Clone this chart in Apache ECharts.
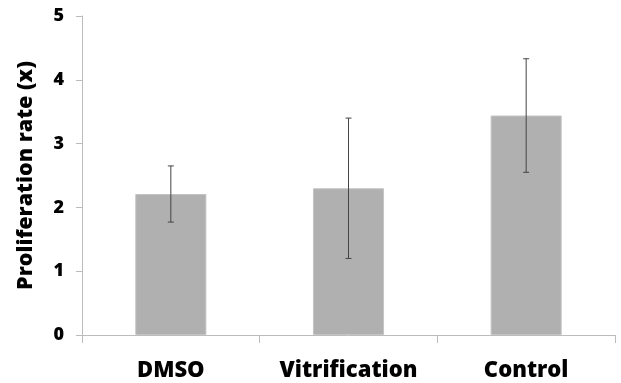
<!DOCTYPE html>
<html>
<head>
<meta charset="utf-8">
<script src="https://cdn.jsdelivr.net/npm/echarts@6/dist/echarts.min.js"></script>
<style>html,body{margin:0;padding:0;background:#fff;}#c{width:621px;height:383px;}</style>
</head>
<body>
<div id="c"></div>
<script>
const categories = ['DMSO', 'Vitrification', 'Control'];
const values = [2.21, 2.30, 3.44];
const errors = [0.44, 1.10, 0.89];
const yTicks = [0, 1, 2, 3, 4, 5];

const chart = echarts.init(document.getElementById('c'));
const errData = categories.map((c, i) => [i, values[i] - errors[i], values[i] + errors[i]]);
chart.setOption({
  animation: false,
  grid: { left: 82, top: 16, right: 6, bottom: 48 },
  xAxis: {
    type: 'category',
    data: categories,
    axisLine: { lineStyle: { color: '#bcbcbc', width: 1 } },
    axisTick: { show: true, length: 8, lineStyle: { color: '#bcbcbc' } },
    axisLabel: { interval: 0, hideOverlap: false, color: '#000', fontFamily: 'Open Sans', fontWeight: 800, fontSize: 22, margin: 25 }
  },
  yAxis: {
    type: 'value',
    min: yTicks[0],
    max: yTicks[yTicks.length - 1],
    interval: 1,
    name: 'Proliferation rate (x)',
    nameLocation: 'middle',
    nameGap: 45,
    nameTextStyle: { color: '#000', fontFamily: 'Open Sans', fontWeight: 800, fontSize: 21.5 },
    splitLine: { show: false },
    axisLine: { show: true, lineStyle: { color: '#bcbcbc', width: 1 } },
    axisTick: { show: true, length: 6, lineStyle: { color: '#bcbcbc' } },
    axisLabel: { color: '#000', fontFamily: 'Open Sans', fontWeight: 800, fontSize: 18, margin: 18 }
  },
  series: [
    {
      type: 'bar',
      data: values,
      barWidth: '40%',
      itemStyle: { color: '#b0b0b0', borderColor: '#c4c4c4', borderWidth: 1 }
    },
    {
      type: 'custom',
      data: errData,
      z: 10,
      renderItem: function (params, api) {
        const x = api.value(0);
        const lo = api.coord([x, api.value(1)]);
        const hi = api.coord([x, api.value(2)]);
        const cap = 3;
        const style = { stroke: '#444', lineWidth: 1 };
        return {
          type: 'group',
          children: [
            { type: 'line', shape: { x1: hi[0], y1: hi[1], x2: lo[0], y2: lo[1] }, style: style },
            { type: 'line', shape: { x1: hi[0] - cap, y1: hi[1], x2: hi[0] + cap, y2: hi[1] }, style: style },
            { type: 'line', shape: { x1: lo[0] - cap, y1: lo[1], x2: lo[0] + cap, y2: lo[1] }, style: style }
          ]
        };
      }
    }
  ]
});
</script>
</body>
</html>
